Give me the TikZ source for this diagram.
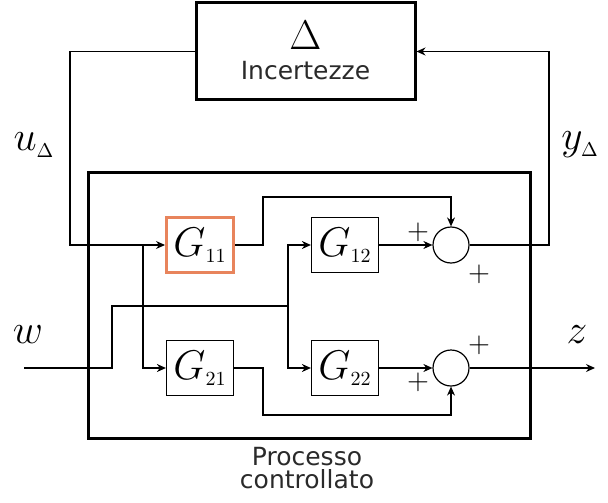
\documentclass[tikz,border=0pt]{standalone}
\usepackage{fontspec}
\setsansfont{DejaVu Sans}
\usepackage{tikz}
\usetikzlibrary{
  arrows.meta,
  positioning,
}
\definecolor{gorange}{HTML}{E8845C}
\definecolor{txtgray}{HTML}{2A2A2A}

\begin{document}
\begin{tikzpicture}[
    x=0.5pt, y=-0.5pt,
    block/.style={draw, line width=0.6pt, minimum width=33.5pt,
                  minimum height=27.5pt, inner sep=0pt,
                  font=\fontsize{20}{24}\selectfont},
    thickbox/.style={draw, line width=1.5pt, inner sep=0pt},
    sumnode/.style={circle, draw, line width=0.6pt, minimum size=18pt, inner sep=0pt},
    wire/.style={line width=0.6pt},
    sig/.style={wire, -{Stealth[length=4.5pt,width=4pt]}},
    lbl/.style={font=\fontsize{20}{24}\selectfont, inner sep=0pt},
    pm/.style={font=\Large, inner sep=0pt},
    txt/.style={font=\sffamily\fontsize{12.5}{11.5}\selectfont, text=txtgray,
                align=center, inner sep=0pt},
  ]
  \useasboundingbox (0,0) rectangle (608,502);

  % uncertainty block and controlled plant
  \node[thickbox, minimum width=109.5pt, minimum height=48.5pt] (delta) at (305.5,51.5) {};
  \node[lbl] (deltasym) at (305.5,35) {$\Delta$};
  \node[txt, anchor=base] (deltatxt) at (305.5,80) {Incertezze};
  \node[thickbox, minimum width=221pt, minimum height=133pt] (proc) at (309,305) {};
  \node[txt, anchor=north] (proctxt) at (307,447) {Processo\\controllato};

  \node[block, draw=gorange, line width=1.5pt] (g11) at (200,245) {$G_{\scriptscriptstyle 11}$};
  \node[block] (g12) at (345,245) {$G_{\scriptscriptstyle 12}$};
  \node[block] (g21) at (200,368) {$G_{\scriptscriptstyle 21}$};
  \node[block] (g22) at (345,368) {$G_{\scriptscriptstyle 22}$};
  \node[sumnode] (sum1) at (451,245) {};
  \node[sumnode] (sum2) at (451,368) {};

  \node[pm] (p1a) at (418,232) {$+$};
  \node[pm] (p1b) at (479,274) {$+$};
  \node[pm] (p2a) at (479,345) {$+$};
  \node[pm] (p2b) at (418,382) {$+$};

  \node[lbl] (ulab) at (34,145) {$u_{\scriptscriptstyle\Delta}$};
  \node[lbl] (ylab) at (580,145) {$y_{\scriptscriptstyle\Delta}$};
  \node[lbl] (wlab) at (28,335) {$w$};
  \node[lbl] (zlab) at (577,335) {$z$};

  \coordinate (win) at (24,368);
  \coordinate (zout) at (595,368);

  % u_Delta into G11 and G21
  \draw[sig] (delta.west) -- (70,51.5) -- (70,245) -- (g11.west);
  \draw[sig] (143,245) -- (143,368) -- (g21.west);
  % w into G12 and G22
  \draw[wire] (win) -- (112,368) -- (112,306) -- (288,306);
  \draw[sig] (288,306) -- (288,245) -- (g12.west);
  \draw[sig] (288,306) -- (288,368) -- (g22.west);
  % outputs
  \draw[sig] (g11.east) -- (263,245) -- (263,197) -- (451,197) -- (sum1.north);
  \draw[sig] (g12.east) -- (sum1.west);
  \draw[sig] (sum1.east) -- (549,245) -- (549,51.5) -- (delta.east);
  \draw[sig] (g21.east) -- (263,368) -- (263,415) -- (451,415) -- (sum2.south);
  \draw[sig] (g22.east) -- (sum2.west);
  \draw[sig] (sum2.east) -- (zout);
\end{tikzpicture}
\end{document}
